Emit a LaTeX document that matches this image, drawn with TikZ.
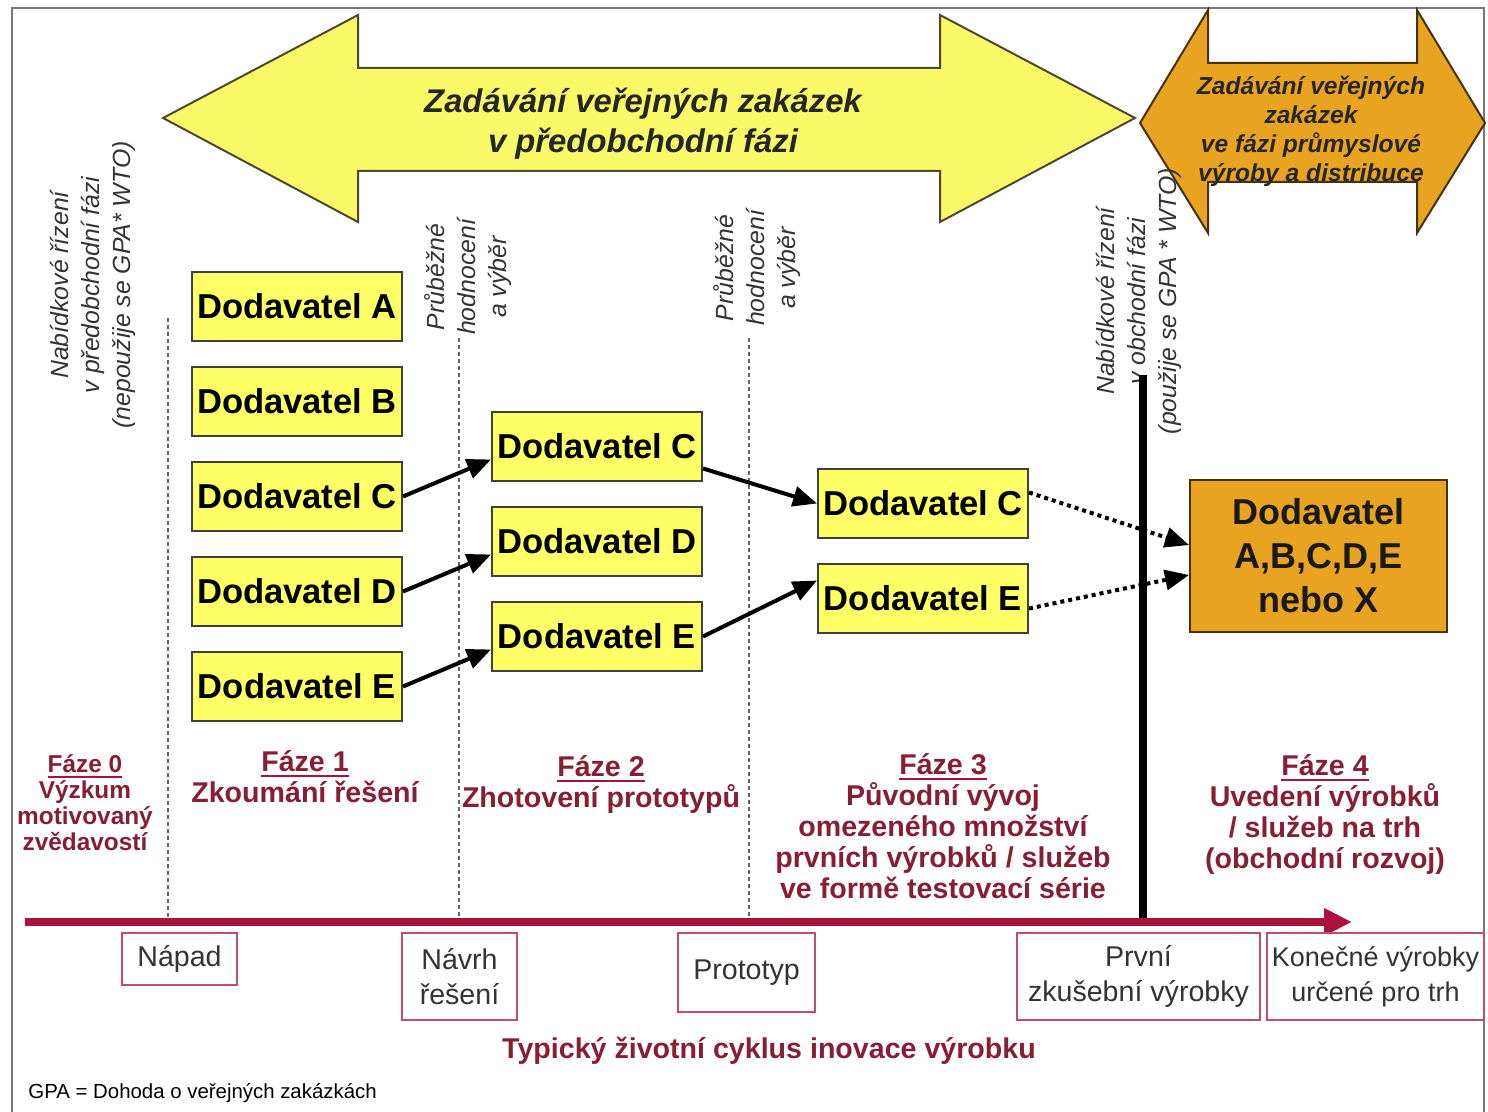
\documentclass[tikz,border=0pt]{standalone}
\usepackage{fontspec}
\setmainfont{Liberation Sans}
\usetikzlibrary{positioning,arrows.meta}

\definecolor{boxyellow}{RGB}{255,255,102}
\definecolor{arrowyellow}{RGB}{250,250,105}
\definecolor{goldorange}{RGB}{232,163,32}
\definecolor{phasered}{RGB}{135,30,50}
\definecolor{timered}{RGB}{170,18,60}
\definecolor{frameline}{RGB}{120,120,120}

\newcommand{\phaseul}[1]{\setbox0\hbox{#1}\rlap{\color{timered}\rule[-3pt]{\wd0}{1.3pt}}\box0}

\tikzset{
    frame/.style={draw=frameline, line width=1pt},
    bigarrow/.style={draw=black!60!olive, fill=arrowyellow, line width=1pt},
    goldarrow/.style={draw=black!70!goldorange, fill=goldorange, line width=1pt},
    bigtext/.style={align=center, inner sep=0pt, text=black!85, font=\fontsize{16.4}{20}\selectfont\bfseries\itshape},
    goldtext/.style={align=center, inner sep=0pt, text=black!85, font=\fontsize{12.3}{14.5}\selectfont\bfseries\itshape},
    tender/.style={rotate=90, align=center, inner sep=0pt, text=black!80, font=\fontsize{12.4}{15.5}\selectfont\itshape},
    sepline/.style={draw=black!60, line width=0.6pt, dash pattern=on 2pt off 1.5pt},
    gate/.style={draw=black, line width=4pt},
    supplier/.style={draw=black!75, fill=boxyellow, line width=1pt, minimum width=105pt, minimum height=34.5pt, inner sep=1pt, font=\fontsize{17.3}{20}\selectfont\bfseries},
    result/.style={draw=black!70!goldorange, fill=goldorange, line width=1pt, minimum width=128.5pt, minimum height=76pt, align=center, text=black!90, font=\fontsize{18}{22}\selectfont\bfseries},
    flow/.style={-{Triangle[length=12pt,width=10pt]}, line width=2pt},
    timeline/.style={-{Triangle[length=14pt,width=13pt]}, draw=timered, line width=4pt},
    milestone/.style={draw=timered!75, fill=white, line width=1pt, inner sep=1pt, align=center, text=black!80, font=\fontsize{14.3}{17.5}\selectfont},
    phase/.style={anchor=north, inner sep=0pt, align=center, text=phasered, font=\fontsize{14.3}{15.5}\selectfont\bfseries}
}

\begin{document}
\begin{tikzpicture}[x=0.5pt, y=-0.5pt]
    \useasboundingbox (0,0) rectangle (1488,1112);
    \draw[frame] (12,1112) -- (12,8) -- (1484,8) -- (1484,1112);

    \draw[bigarrow] (163,118) -- (358,15) -- (358,68) -- (940,68) -- (940,15) -- (1135,118)
        -- (940,222) -- (940,171) -- (358,171) -- (358,222) -- cycle;
    \node[bigtext] (pre) at (643,124) {Zadávání veřejných zakázek\\v předobchodní fázi};

    \draw[goldarrow] (1140,123) -- (1208,10) -- (1208,63) -- (1417,63) -- (1417,10) -- (1485,123)
        -- (1417,233) -- (1417,182) -- (1208,182) -- (1208,233) -- cycle;
    \node[goldtext] (ind) at (1311,131) {Zadávání veřejných\\zakázek\\ve fázi průmyslové\\výroby a distribuce};

    \node[tender] (t0) at (93,285) {Nabídkové řízení\\v předobchodní fázi\\(nepoužije se GPA* WTO)};
    \node[tender] (t1) at (468,277) {Průběžné\\hodnocení\\a výběr};
    \node[tender] (t2) at (757,268) {Průběžné\\hodnocení\\a výběr};
    \node[tender] (t3) at (1139,301) {Nabídkové řízení\\v obchodní fázi\\(použije se GPA * WTO)};

    \draw[sepline] (168,318) -- (168,918);
    \draw[sepline] (459,338) -- (459,918);
    \draw[sepline] (749,338) -- (749,918);

    \node[supplier] (sa) at (297,306.5) {Dodavatel A};
    \node[supplier, below=12pt of sa] (sb) {Dodavatel B};
    \node[supplier, below=12pt of sb] (sc) {Dodavatel C};
    \node[supplier, below=12pt of sc] (sd) {Dodavatel D};
    \node[supplier, below=12pt of sd] (se) {Dodavatel E};

    \node[supplier] (pc) at (597,446.5) {Dodavatel C};
    \node[supplier, below=12pt of pc] (pd) {Dodavatel D};
    \node[supplier, below=12pt of pd] (pe) {Dodavatel E};

    \node[supplier] (tc) at (923,503.5) {Dodavatel C};
    \node[supplier, below=12pt of tc] (te) {Dodavatel E};

    \node[result] (all) at (1318.5,556) {Dodavatel\\A,B,C,D,E\\nebo X};

    \draw[flow] (sc.east) -- ([yshift=-6.5pt]pc.west);
    \draw[flow] (sd.east) -- ([yshift=-6.5pt]pd.west);
    \draw[flow] (se.east) -- ([yshift=-6.5pt]pe.west);
    \draw[flow] ([yshift=-11pt]pc.east) -- (tc.west);
    \draw[flow] (pe.east) -- ([yshift=9pt]te.west);
    \draw[flow, dotted] ([yshift=5.5pt]tc.east) -- ([yshift=5.5pt]all.west);
    \draw[flow, dotted] ([yshift=-5pt]te.east) -- ([yshift=-9.5pt]all.west);

    \draw[gate] (1143,375) -- (1143,920);

    \node[phase, font=\fontsize{12.2}{13}\selectfont\bfseries] (f0) at (85,754) {\phaseul{Fáze 0}\\Výzkum\\motivovaný\\zvědavostí};
    \node[phase] (f1) at (305,750) {\phaseul{Fáze 1}\\Zkoumání řešení};
    \node[phase] (f2) at (601,755) {\phaseul{Fáze 2}\\Zhotovení prototypů};
    \node[phase] (f3) at (943,753) {\phaseul{Fáze 3}\\Původní vývoj\\omezeného množství\\prvních výrobků / služeb\\ve formě testovací série};
    \node[phase] (f4) at (1325,754) {\phaseul{Fáze 4}\\Uvedení výrobků\\/ služeb na trh\\(obchodní rozvoj)};

    \coordinate (tstart) at (25,922);
    \coordinate (tend) at (1352,922);
    \draw[timeline] (tstart) -- (tend);

    \node[milestone, minimum width=57.5pt, minimum height=26pt] (idea) at (179.5,959) {Nápad};
    \node[milestone, minimum width=57.5pt, minimum height=43.5pt] (design) at (459.5,976.5) {Návrh\\řešení};
    \node[milestone, minimum width=68.5pt, minimum height=39.5pt] (proto) at (746.5,972.5) {Prototyp};
    \node[milestone, minimum width=121.5pt, minimum height=43.5pt] (first) at (1138.5,976.5) {První\\zkušební výrobky};
    \node[milestone, minimum width=108.5pt, minimum height=43.5pt, font=\fontsize{13.5}{17.5}\selectfont] (final) at (1375.5,976.5) {Konečné výrobky\\určené pro trh};

    \node[text=phasered, font=\fontsize{14.3}{17}\selectfont\bfseries] (cycle) at (769,1051) {Typický životní cyklus inovace výrobku};
    \node[anchor=west, inner sep=0pt, font=\fontsize{10.2}{12}\selectfont] (gpa) at (28,1093) {GPA = Dohoda o veřejných zakázkách};
\end{tikzpicture}
\end{document}
